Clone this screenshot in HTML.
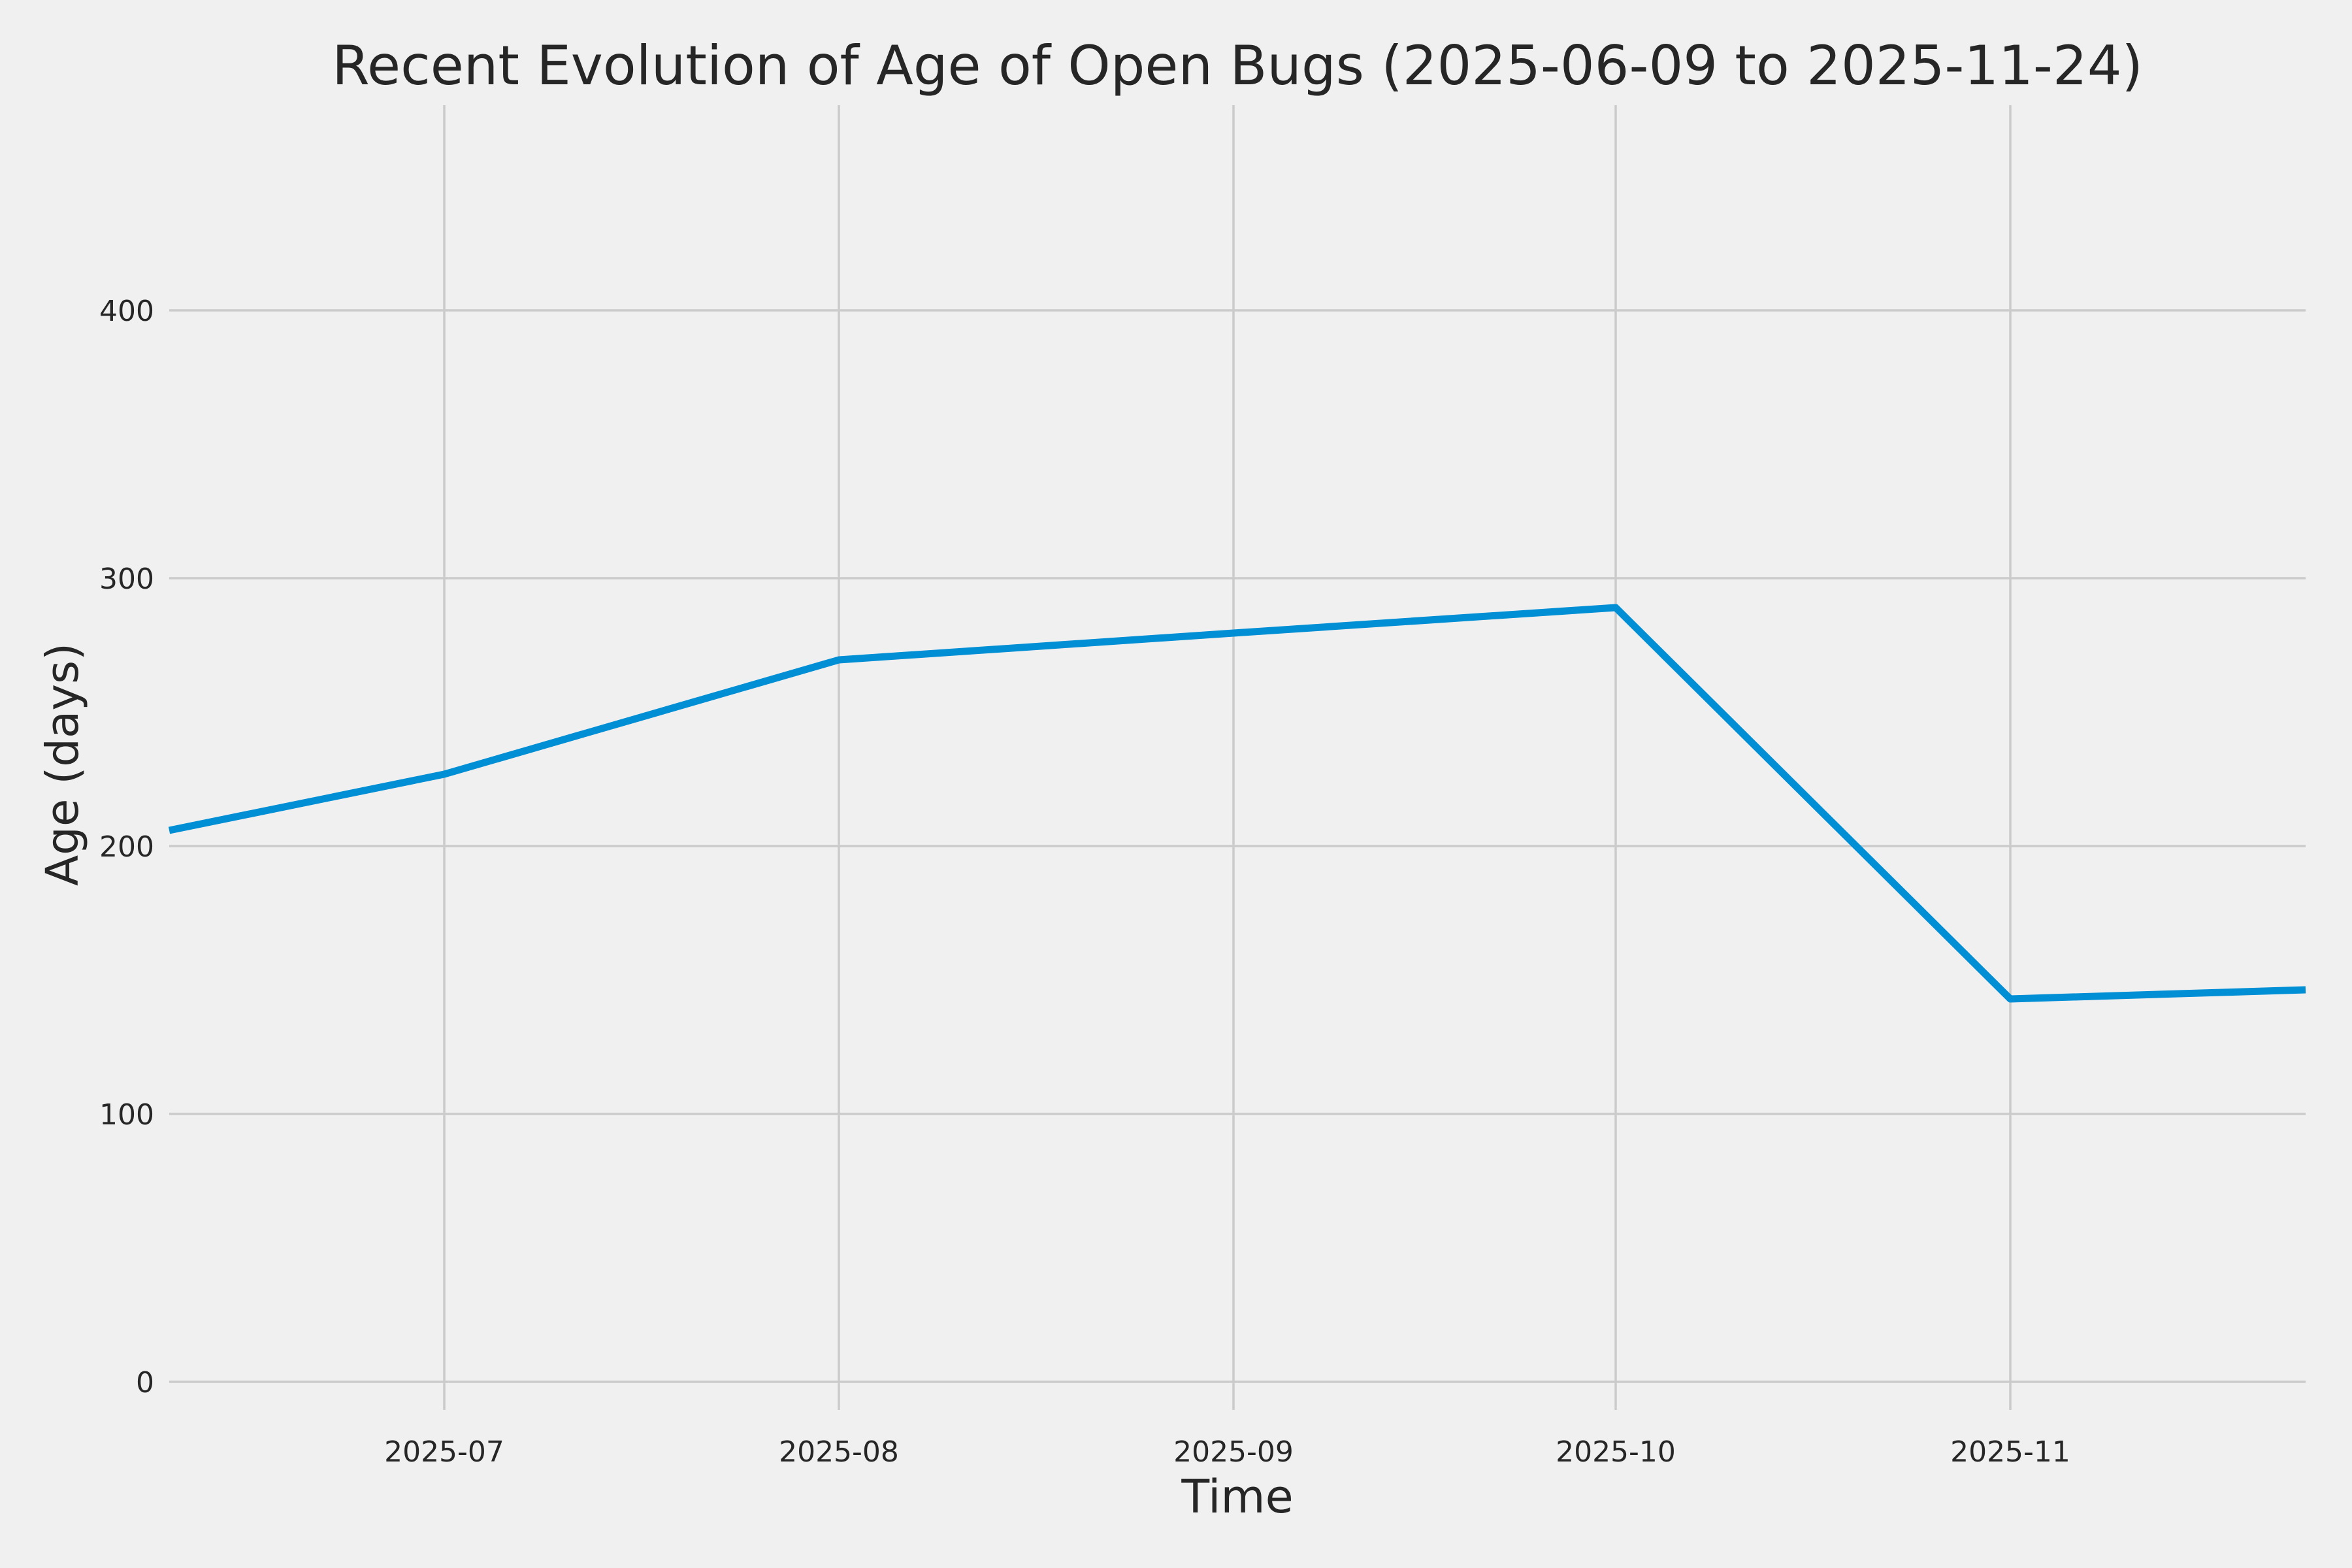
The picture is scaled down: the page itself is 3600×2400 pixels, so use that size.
<!DOCTYPE html>
<html><head><meta charset="utf-8"><style>
html,body{margin:0;padding:0;background:#f0f0f0;}
svg{display:block;}
text{font-family:"DejaVu Sans","Liberation Sans",sans-serif;fill:#262626;}
</style></head><body>
<svg width="3600" height="2400" viewBox="0 0 3600 2400" xmlns="http://www.w3.org/2000/svg">
<rect width="3600" height="2400" fill="#f0f0f0"/>
<g stroke="#cbcbcb" stroke-width="3.5">
<line x1="259" x2="3529" y1="2115" y2="2115"/>
<line x1="259" x2="3529" y1="1705" y2="1705"/>
<line x1="259" x2="3529" y1="1295" y2="1295"/>
<line x1="259" x2="3529" y1="885" y2="885"/>
<line x1="259" x2="3529" y1="475" y2="475"/>
<line x1="680" x2="680" y1="161" y2="2158"/>
<line x1="1284" x2="1284" y1="161" y2="2158"/>
<line x1="1888" x2="1888" y1="161" y2="2158"/>
<line x1="2473" x2="2473" y1="161" y2="2158"/>
<line x1="3077" x2="3077" y1="161" y2="2158"/>
</g>
<polyline fill="none" stroke="#008fd5" stroke-width="11" stroke-linejoin="round" points="259,1271 680,1185 1284,1010 1888,969 2473,930 3077,1529 3529,1515"/>
<g font-size="44" text-anchor="end">
<text x="236" y="2131">0</text>
<text x="236" y="1721">100</text>
<text x="236" y="1311">200</text>
<text x="236" y="901">300</text>
<text x="236" y="491">400</text>
</g>
<g font-size="44" text-anchor="middle">
<text x="680" y="2237">2025-07</text>
<text x="1284" y="2237">2025-08</text>
<text x="1888" y="2237">2025-09</text>
<text x="2473" y="2237">2025-10</text>
<text x="3077" y="2237">2025-11</text>
</g>
<text x="1894" y="2315" font-size="70" text-anchor="middle">Time</text>
<text transform="translate(119,1170) rotate(-90)" font-size="69" text-anchor="middle">Age (days)</text>
<text x="1894" y="129" font-size="83" text-anchor="middle">Recent Evolution of Age of Open Bugs (2025-06-09 to 2025-11-24)</text>
</svg>
</body></html>
